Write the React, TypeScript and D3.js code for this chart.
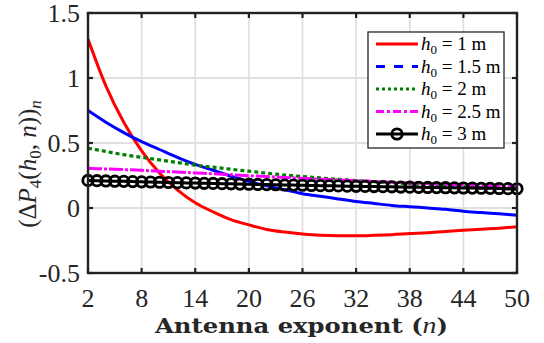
import { useMemo } from "react";
import * as d3 from "d3";

// n values for the smooth curves (even n), and every n for the marker curve
const evenN = d3.range(2, 51, 2);
const allN = d3.range(2, 51, 1);

const h1Values = [
  1.3, 0.94, 0.66, 0.44, 0.27, 0.14, 0.04, -0.03, -0.09, -0.13, -0.165, -0.185, -0.2, -0.21, -0.213,
  -0.213, -0.21, -0.205, -0.197, -0.19, -0.18, -0.172, -0.163, -0.155, -0.145,
];
const h15Values = [
  0.75, 0.66, 0.58, 0.51, 0.45, 0.39, 0.335, 0.29, 0.245, 0.205, 0.17, 0.14, 0.11, 0.09, 0.07, 0.05,
  0.035, 0.02, 0.01, 0.0, -0.01, -0.025, -0.035, -0.045, -0.055,
];
const h2Values = [
  0.46, 0.435, 0.41, 0.39, 0.37, 0.35, 0.33, 0.314, 0.298, 0.283, 0.268, 0.254, 0.242, 0.231, 0.221,
  0.211, 0.202, 0.193, 0.185, 0.178, 0.171, 0.164, 0.157, 0.151, 0.145,
];
const h25Values = [
  0.305, 0.3, 0.295, 0.29, 0.283, 0.277, 0.27, 0.263, 0.256, 0.249, 0.242, 0.235, 0.228, 0.222, 0.216,
  0.21, 0.204, 0.198, 0.193, 0.188, 0.183, 0.178, 0.173, 0.169, 0.162,
];
const h3Values = [
  0.212, 0.21, 0.208, 0.206, 0.205, 0.203, 0.201, 0.2, 0.198,
  0.196, 0.195, 0.193, 0.192, 0.19, 0.189, 0.187, 0.186, 0.184, 0.183,
  0.181, 0.18, 0.179, 0.177, 0.176, 0.175, 0.173, 0.172, 0.171, 0.17,
  0.168, 0.167, 0.166, 0.165, 0.164, 0.163, 0.161, 0.16, 0.159, 0.158,
  0.157, 0.156, 0.155, 0.154, 0.153, 0.152, 0.151, 0.15, 0.149, 0.148,
];

const xTicks = [2, 8, 14, 20, 26, 32, 38, 44, 50];
const yTicks = [-0.5, 0, 0.5, 1, 1.5];
const legendLabels = ["1", "1.5", "2", "2.5", "3"];

type Series = {
  label: string;
  ns: number[];
  values: number[];
  color: string;
  dash: string | null;
  legendDash: string | null;
  width: number;
  marker?: boolean;
};

const series: Series[] = [
  { label: legendLabels[0], ns: evenN, values: h1Values, color: "#ff0000", dash: null, legendDash: null, width: 3 },
  { label: legendLabels[1], ns: evenN, values: h15Values, color: "#0000ff", dash: null, legendDash: "9 9", width: 3 },
  { label: legendLabels[2], ns: evenN, values: h2Values, color: "#008000", dash: "4 3", legendDash: "3 3", width: 3.2 },
  { label: legendLabels[3], ns: evenN, values: h25Values, color: "#ff00ff", dash: "14 2 3 2", legendDash: "8 3 3 3", width: 3 },
  { label: legendLabels[4], ns: allN, values: h3Values, color: "#000000", dash: null, legendDash: null, width: 3, marker: true },
];

const W = 544;
const H = 343;
const left = 88;
const right = 517;
const top = 13;
const bottom = 273;
const serif = "Liberation Serif";

export default function App() {
  const x = useMemo(() => d3.scaleLinear().domain([2, 50]).range([left, right]), []);
  const y = useMemo(() => d3.scaleLinear().domain([-0.5, 1.5]).range([bottom, top]), []);

  const lineGen = (s: Series) =>
    d3
      .line<number>()
      .x((_, i) => x(s.ns[i]))
      .y((v) => y(v))
      .curve(d3.curveMonotoneX)(s.values) ?? "";

  return (
    <svg width={W} height={H} style={{ position: "fixed", left: 0, top: 0, background: "#fff" }}>
      <rect x={0} y={0} width={W} height={H} fill="#fff" />
      <defs>
        <clipPath id="plotclip">
          <rect x={left} y={top} width={right - left} height={bottom - top} />
        </clipPath>
      </defs>

      {/* grid */}
      {xTicks.map((t) => (
        <line key={`gx${t}`} x1={x(t)} x2={x(t)} y1={top} y2={bottom} stroke="#e0e0e0" strokeWidth={1.8} />
      ))}
      {yTicks.map((t) => (
        <line key={`gy${t}`} x1={left} x2={right} y1={y(t)} y2={y(t)} stroke="#e0e0e0" strokeWidth={1.8} />
      ))}

      {/* curves */}
      <g clipPath="url(#plotclip)">
        {series.map((s) => (
          <path
            key={s.label}
            d={lineGen(s)}
            fill="none"
            stroke={s.color}
            strokeWidth={s.width}
            strokeDasharray={s.dash ?? undefined}
          />
        ))}
      </g>
      {series
        .filter((s) => s.marker)
        .map((s) =>
          s.values.map((v, i) => (
            <circle key={`m${i}`} cx={x(s.ns[i])} cy={y(v)} r={5.2} fill="none" stroke={s.color} strokeWidth={2.8} />
          )),
        )}

      {/* axes box */}
      <rect x={left} y={top} width={right - left} height={bottom - top} fill="none" stroke="#222" strokeWidth={2.4} />
      {xTicks.map((t) => (
        <g key={`tx${t}`}>
          <line x1={x(t)} x2={x(t)} y1={bottom} y2={bottom - 5} stroke="#222" strokeWidth={2.2} />
          <line x1={x(t)} x2={x(t)} y1={top} y2={top + 5} stroke="#222" strokeWidth={2.2} />
          <text x={x(t)} y={bottom + 34} textAnchor="middle" fontFamily={serif} fontSize={26} fill="#262626">
            {t}
          </text>
        </g>
      ))}
      {yTicks.map((t) => (
        <g key={`ty${t}`}>
          <line x1={left} x2={left + 5} y1={y(t)} y2={y(t)} stroke="#222" strokeWidth={2.2} />
          <line x1={right} x2={right - 5} y1={y(t)} y2={y(t)} stroke="#222" strokeWidth={2.2} />
          <text x={left - 8} y={y(t) + 9} textAnchor="end" fontFamily={serif} fontSize={26} fill="#262626">
            {t}
          </text>
        </g>
      ))}

      {/* x label */}
      <text
        x={155}
        y={333}
        textLength={293}
        lengthAdjust="spacingAndGlyphs"
        fontFamily="DejaVu Serif"
        fontSize={21}
        fontWeight="bold"
        fill="#262626"
      >
        Antenna exponent (<tspan fontFamily={serif} fontSize={24} fontStyle="italic" fontWeight="normal">n</tspan>)
      </text>

      {/* y label */}
      <text
        transform={`translate(36,${(top + bottom) / 2 + 21}) rotate(-90)`}
        textAnchor="middle"
        fontFamily={serif}
        fontSize={25}
        fill="#262626"
      >
        (Δ<tspan fontStyle="italic">P</tspan>
        <tspan fontSize={17} dy={5}>4</tspan>
        <tspan dy={-5}>(</tspan>
        <tspan fontStyle="italic">h</tspan>
        <tspan fontSize={17} dy={5}>0</tspan>
        <tspan dy={-5}>, </tspan>
        <tspan fontStyle="italic">n</tspan>
        <tspan>))</tspan>
        <tspan fontSize={17} fontStyle="italic" dy={5}>n</tspan>
      </text>

      {/* legend */}
      <rect x={368} y={32} width={136} height={116} fill="#fff" stroke="#262626" strokeWidth={1.3} />
      {series.map((s, i) => {
        const ly = 44 + i * 22.5;
        return (
          <g key={`lg${s.label}`}>
            <line x1={376} x2={418} y1={ly} y2={ly} stroke={s.color} strokeWidth={s.width} strokeDasharray={s.legendDash ?? undefined} />
            {s.marker ? <circle cx={397} cy={ly} r={5.2} fill="none" stroke={s.color} strokeWidth={2.8} /> : null}
            <text x={421} y={ly + 6} fontFamily={serif} fontSize={19} fill="#000">
              <tspan fontStyle="italic">h</tspan>
              <tspan fontSize={13} dy={4}>0</tspan>
              <tspan dy={-4}> = {s.label} m</tspan>
            </text>
          </g>
        );
      })}
    </svg>
  );
}
